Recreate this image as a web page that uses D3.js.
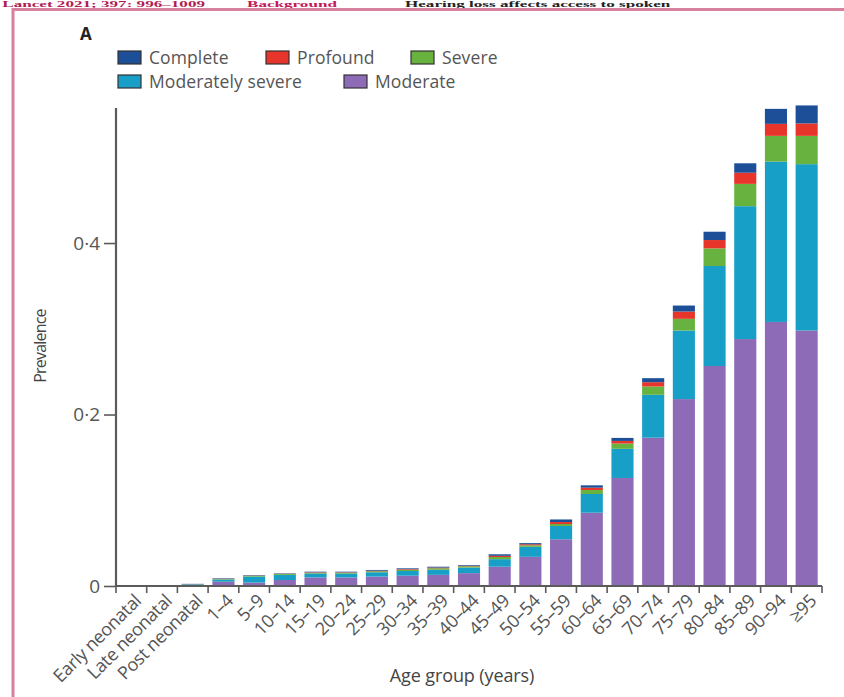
<!DOCTYPE html>
<html>
<head>
<meta charset="utf-8">
<script src="https://cdn.jsdelivr.net/npm/d3@7"></script>
<style>
  html, body { margin: 0; padding: 0; background: #ffffff; }
  svg { display: block; }
</style>
</head>
<body>
<svg id="chart" width="844" height="697"></svg>
<script>
// ---------------- DATA ----------------
const categories = ["Early neonatal", "Late neonatal", "Post neonatal", "1–4", "5–9", "10–14", "15–19",
  "20–24", "25–29", "30–34", "35–39", "40–44", "45–49", "50–54", "55–59", "60–64", "65–69",
  "70–74", "75–79", "80–84", "85–89", "90–94", "≥95"];

const moderate        = [0.0003, 0.0003, 0.0006, 0.0050, 0.0040, 0.0070, 0.0100, 0.0100, 0.0110, 0.0120, 0.0130, 0.0150,
                         0.0225, 0.0340, 0.0545, 0.0855, 0.1260, 0.1730, 0.2180, 0.2566, 0.2880, 0.3080, 0.2980];
const moderatelySevere = [0.0004, 0.0004, 0.0012, 0.0025, 0.0070, 0.0060, 0.0045, 0.0045, 0.0050, 0.0055, 0.0060, 0.0065,
                         0.0088, 0.0117, 0.0155, 0.0218, 0.0340, 0.0500, 0.0800, 0.1166, 0.1550, 0.1870, 0.1940];
const severe          = [0.0001, 0.0001, 0.0002, 0.0006, 0.0010, 0.0010, 0.0010, 0.0010, 0.0012, 0.0015, 0.0017, 0.0015,
                         0.0025, 0.0018, 0.0023, 0.0047, 0.0062, 0.0097, 0.0136, 0.0206, 0.0260, 0.0300, 0.0330];
const profound        = [0.0001, 0.0001, 0.0001, 0.0003, 0.0003, 0.0003, 0.0005, 0.0005, 0.0006, 0.0007, 0.0008, 0.0007,
                         0.0014, 0.0012, 0.0023, 0.0027, 0.0030, 0.0050, 0.0085, 0.0097, 0.0130, 0.0140, 0.0145];
const complete        = [0.0002, 0.0002, 0.0004, 0.0006, 0.0005, 0.0005, 0.0007, 0.0007, 0.0009, 0.0009, 0.0010, 0.0008,
                         0.0018, 0.0013, 0.0030, 0.0027, 0.0035, 0.0047, 0.0070, 0.0097, 0.0110, 0.0175, 0.0210];

const seriesNames = ["Moderate", "Moderately severe", "Severe", "Profound", "Complete"];
const seriesColors = ["#8e6bb6", "#179fc7", "#68b23f", "#e8352b", "#1c4f97"];
const legendRow1 = ["Complete", "Profound", "Severe"];
const legendRow2 = ["Moderately severe", "Moderate"];
const yTicks = [0, 0.2, 0.4];
const yTop = 0.5575;

// ---------------- SETUP ----------------
const svg = d3.select("#chart");
const font = "'Open Sans', 'Noto Sans', sans-serif";

// header strip (shrunk so it stays visible, stretched horizontally)
const head = svg.append("g").attr("font-family", "'Liberation Serif', 'DejaVu Serif', serif")
  .attr("font-weight", "bold").attr("font-size", 9).attr("transform", "scale(1.9,1)");
head.append("text").attr("x", 205 / 1.9).attr("y", 7).attr("text-anchor", "end").attr("fill", "#b01d55")
  .text("Lancet 2021; 397: 996–1009");
head.append("text").attr("x", 247 / 1.9).attr("y", 7).attr("fill", "#c0185a").text("Background");
head.append("text").attr("x", 405 / 1.9).attr("y", 7).attr("fill", "#222").text("Hearing loss affects access to spoken");

// pink frame
svg.append("rect").attr("x", 13).attr("y", 9.5).attr("width", 900).attr("height", 760)
  .attr("fill", "none").attr("stroke", "#d7819d").attr("stroke-width", 3);

// panel letter
svg.append("text").attr("x", 80).attr("y", 40).attr("font-family", font).attr("font-weight", "bold")
  .attr("font-size", 17).attr("fill", "#222").text("A");

// scales
const x = d3.scaleBand().domain(categories).range([116, 822]).paddingInner(0.28).paddingOuter(0.14);
const y = d3.scaleLinear().domain([0, yTop]).range([586, 108]);

// stacked data
const rows = categories.map((c, i) => ({
  cat: c,
  "Moderate": moderate[i],
  "Moderately severe": moderatelySevere[i],
  "Severe": severe[i],
  "Profound": profound[i],
  "Complete": complete[i]
}));
const stack = d3.stack().keys(seriesNames)(rows);
const color = d3.scaleOrdinal().domain(seriesNames).range(seriesColors);

svg.append("g").selectAll("g").data(stack).join("g")
  .attr("fill", d => color(d.key))
  .selectAll("rect").data(d => d).join("rect")
  .attr("x", d => x(d.data.cat))
  .attr("width", x.bandwidth())
  .attr("y", d => y(d[1]))
  .attr("height", d => Math.max(0, y(d[0]) - y(d[1])));

// y axis
const axisColor = "#5b5b5b";
const yAxis = svg.append("g").attr("transform", `translate(${x.range()[0]},0)`)
  .call(d3.axisLeft(y).tickValues(yTicks).tickSize(12).tickPadding(4)
    .tickFormat(d => d === 0 ? "0" : d3.format(".1f")(d).replace(".", "·")));
yAxis.select(".domain").attr("d", `M0,${y(yTop)}V${y(0)}`).attr("stroke", axisColor).attr("stroke-width", 2.2);
yAxis.selectAll(".tick line").attr("stroke", axisColor).attr("stroke-width", 1.6);
yAxis.selectAll(".tick text").attr("font-family", font).attr("font-size", 19).attr("fill", "#555");

// x axis baseline and boundary ticks
const step = x.step();
const x0 = x.range()[0];
const bounds = d3.range(categories.length + 1).map(i => x0 + i * step);
svg.append("line").attr("x1", x0).attr("x2", x.range()[1]).attr("y1", y(0)).attr("y2", y(0))
  .attr("stroke", axisColor).attr("stroke-width", 2);
svg.append("g").selectAll("line").data(bounds).join("line")
  .attr("x1", d => d).attr("x2", d => d).attr("y1", y(0)).attr("y2", y(0) + 7)
  .attr("stroke", axisColor).attr("stroke-width", 1.6);

// x tick labels
svg.append("g").selectAll("text").data(categories).join("text")
  .attr("transform", d => `translate(${x(d) + x.bandwidth() / 2 + 11},${y(0) + 16}) rotate(-45)`)
  .attr("text-anchor", "end")
  .attr("font-family", font).attr("font-size", 18).attr("fill", "#555")
  .attr("letter-spacing", -0.3)
  .text(d => d);

// axis titles
svg.append("text").attr("transform", `translate(46,346) rotate(-90)`)
  .attr("text-anchor", "middle").attr("font-family", font).attr("font-size", 16)
  .attr("fill", "#444").attr("letter-spacing", -0.8).text("Prevalence");
svg.append("text").attr("x", 462).attr("y", 682).attr("text-anchor", "middle")
  .attr("font-family", font).attr("font-size", 18).attr("fill", "#444").attr("letter-spacing", -0.1)
  .text("Age group (years)");

// legend
function legendRow(names, yPos, xs) {
  const g = svg.append("g");
  names.forEach((n, i) => {
    g.append("rect").attr("x", xs[i]).attr("y", yPos).attr("width", 23).attr("height", 13)
      .attr("fill", color(n)).attr("stroke", "#333").attr("stroke-width", 1.2);
    g.append("text").attr("x", xs[i] + 31).attr("y", yPos + 13).attr("font-family", font)
      .attr("font-size", 17.5).attr("fill", "#555").attr("letter-spacing", 0.1).text(n);
  });
}
legendRow(legendRow1, 51, [118, 266, 411]);
legendRow(legendRow2, 75, [118, 344]);
</script>
</body>
</html>
